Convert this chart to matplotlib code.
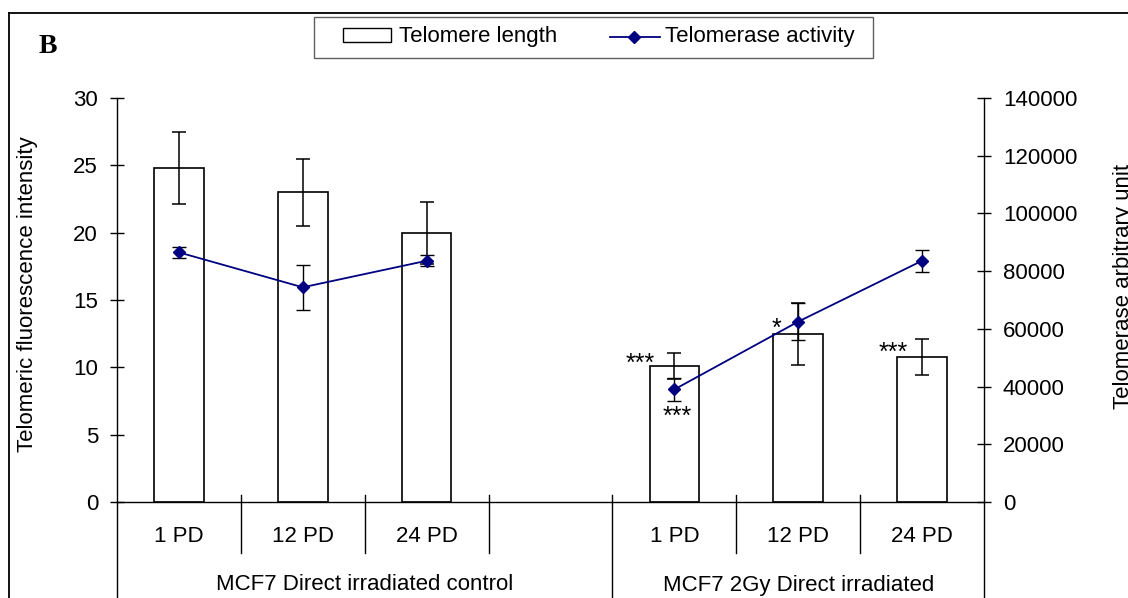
import matplotlib
matplotlib.use("Agg")
import matplotlib.pyplot as plt
from matplotlib.patches import Rectangle
from matplotlib.lines import Line2D

plt.rcParams["font.family"] = ["Liberation Sans", "DejaVu Sans"]

# ---- data -------------------------------------------------------------
categories = ["1 PD", "12 PD", "24 PD", "", "1 PD", "12 PD", "24 PD"]
groups = ["MCF7 Direct irradiated control", "MCF7 2Gy Direct irradiated"]

ctrl_length = [24.8, 23.0, 20.0]
ctrl_length_err = [2.7, 2.5, 2.3]
irr_length = [10.1, 12.45, 10.75]
irr_length_err = [0.95, 2.3, 1.35]

ctrl_activity = [86500, 74400, 83600]
ctrl_activity_err = [2000, 7700, 1900]
irr_activity = [39000, 62500, 83600]
irr_activity_err = [4000, 6400, 3800]

# significance marks: (series, group-member index, text)
sig_marks = [("length", 0, "***"), ("activity", 0, "***"),
             ("activity", 1, "*"), ("length", 2, "***")]

# ---- layout helpers ---------------------------------------------------
W, H = 1128, 598
fig = plt.figure(figsize=(W / 100, H / 100), dpi=100)


def fx(p):
    return p / W


def fy(p):
    return 1 - p / H


ax_l, ax_r, ax_t, ax_b = 117, 984, 98, 502
ax = fig.add_axes([fx(ax_l), fy(ax_b), (ax_r - ax_l) / W, (ax_b - ax_t) / H])
ax2 = ax.twinx()
ax_h = ax_b - ax_t

ctrl_x = [i for i, c in enumerate(categories[:3])]
irr_x = [i + 4 for i, c in enumerate(categories[4:])]

navy = "#000080"
bar_kw = dict(width=0.4, facecolor="white", edgecolor="black", linewidth=1.2,
              zorder=2,
              error_kw=dict(ecolor="black", elinewidth=1.1, capsize=5, capthick=1.1))
ax.bar(ctrl_x, ctrl_length, yerr=ctrl_length_err, **bar_kw)
ax.bar(irr_x, irr_length, yerr=irr_length_err, **bar_kw)

for xs, ys, es in [(ctrl_x, ctrl_activity, ctrl_activity_err),
                   (irr_x, irr_activity, irr_activity_err)]:
    ax2.errorbar(xs, ys, yerr=es, fmt="none", ecolor="black", elinewidth=1.0,
                 capsize=4.7, capthick=1.0, zorder=3)
    ax2.plot(xs, ys, color=navy, lw=1.3, marker="D", ms=6.2,
             markerfacecolor=navy, markeredgecolor=navy, zorder=4)

ax.set_xlim(-0.5, 6.5)
ax.set_ylim(0, 30)
ax2.set_ylim(0, 140000)
ax.set_yticks(range(0, 31, 5))
ax2.set_yticks(range(0, 140001, 20000))
ax.set_xticks([])

for a in (ax, ax2):
    a.tick_params(axis="y", direction="inout", length=10, width=1.0,
                  labelsize=16, pad=8.6, colors="black")
    a.spines["top"].set_visible(False)
    a.patch.set_visible(False)
ax.spines["right"].set_visible(False)
ax2.spines["left"].set_visible(False)
ax2.spines["bottom"].set_visible(False)
for s in ("left", "bottom"):
    ax.spines[s].set_linewidth(1.0)
ax2.spines["right"].set_linewidth(1.0)
ax.tick_params(axis="x", bottom=False, labelbottom=False)
ax2.tick_params(axis="x", bottom=False, labelbottom=False)

# ---- two-level category axis -------------------------------------------
trans = ax.get_xaxis_transform()
up = 7 / ax_h
row1 = -(553 - ax_b) / ax_h
bottom = -(610 - ax_b) / ax_h
for x in (0.5, 1.5, 2.5, 4.5, 5.5):
    ax.plot([x, x], [up, row1], transform=trans, color="black", lw=1.0,
            clip_on=False)
ax.plot([3.5, 3.5], [up, bottom], transform=trans, color="black", lw=1.0,
        clip_on=False)
for x in (-0.5, 6.5):
    ax.plot([x, x], [0, bottom], transform=trans, color="black", lw=1.0,
            clip_on=False)

for i, lab in enumerate(categories):
    if lab:
        ax.text(i, -(537 - ax_b) / ax_h, lab, transform=trans, ha="center",
                va="center", fontsize=16)
ax.text(1.5, -(585 - ax_b) / ax_h, groups[0], transform=trans, ha="center",
        va="center", fontsize=16)
ax.text(5.0, -(585 - ax_b) / ax_h, groups[1], transform=trans, ha="center",
        va="center", fontsize=16)

# ---- significance asterisks ---------------------------------------------
offsets = [(-34, -4.5), (3, -34.5), (-22, -14), (-29, -2.5)]
for (series, idx, txt), (dx, dy) in zip(sig_marks, offsets):
    if series == "length":
        a, y = ax, irr_length[idx]
    else:
        a, y = ax2, irr_activity[idx]
    a.annotate(txt, xy=(irr_x[idx], y), xytext=(dx, dy),
               textcoords="offset pixels", ha="center", va="baseline",
               fontsize=18, zorder=5)

# ---- axis titles --------------------------------------------------------
fig.text(fx(28), fy(294.5), "Telomeric fluorescence intensity", rotation=90,
         ha="center", va="center", fontsize=16)
fig.text(fx(1123), fy(286), "Telomerase arbitrary unit", rotation=90,
         ha="center", va="center", fontsize=16)

# ---- panel letter -------------------------------------------------------
fig.text(fx(39), fy(53), "B", fontsize=20, fontweight="bold",
         family="Liberation Serif", ha="left", va="baseline")

# ---- legend box ---------------------------------------------------------
tf = fig.transFigure
fig.patches.append(Rectangle((fx(314), fy(58.3)), fx(873) - fx(314),
                             fy(16.7) - fy(58.3), transform=tf,
                             facecolor="white", edgecolor="#606060", lw=1.0))
fig.patches.append(Rectangle((fx(343), fy(42.3)), fx(390.5) - fx(343),
                             fy(28.3) - fy(42.3), transform=tf,
                             facecolor="white", edgecolor="black", lw=1.0))
fig.text(fx(399), fy(42.3), "Telomere length", fontsize=16, ha="left",
         va="baseline")
fig.lines.append(Line2D([fx(610), fx(660)], [fy(36.7), fy(36.7)],
                        transform=tf, color=navy, lw=1.3))
fig.lines.append(Line2D([fx(634)], [fy(36.7)], transform=tf, color=navy,
                        marker="D", ms=6.2, lw=0))
fig.text(fx(665), fy(42.3), "Telomerase activity", fontsize=16, ha="left",
         va="baseline")

# ---- outer frame (top and left edges) -----------------------------------
fig.lines.append(Line2D([fx(9), fx(W + 5)], [fy(13.3), fy(13.3)],
                        transform=tf, color="black", lw=1.3))
fig.lines.append(Line2D([fx(9), fx(9)], [fy(13.3), fy(H + 5)],
                        transform=tf, color="black", lw=1.3))

fig.savefig("out.png", dpi=100, facecolor="white")
